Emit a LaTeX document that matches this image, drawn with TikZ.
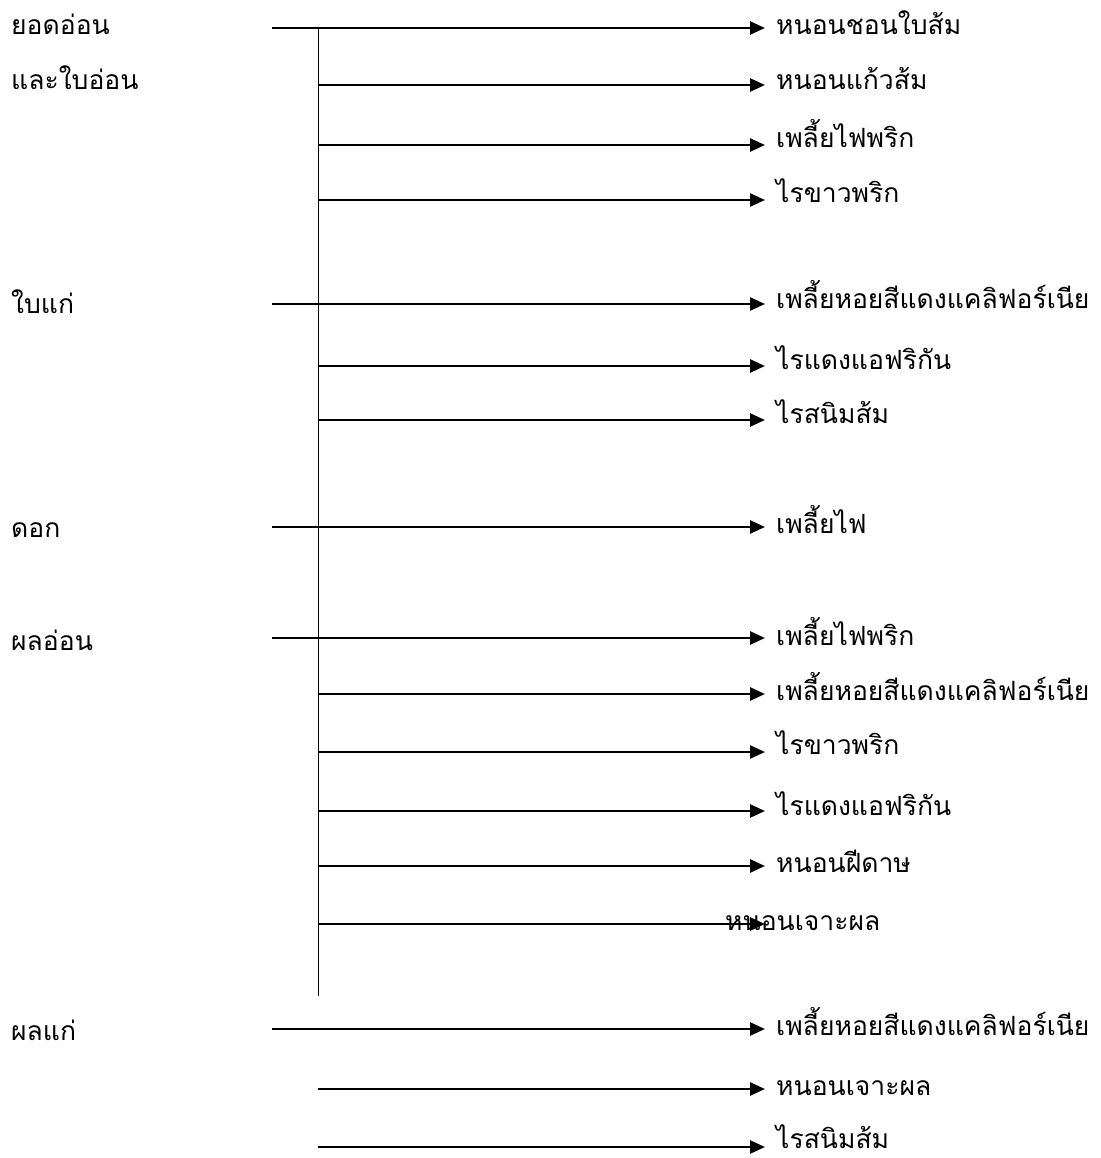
\documentclass[tikz,border=0pt]{standalone}
\usepackage{fontspec}
\newfontfamily\thaifont[Script=Thai]{Loma}
\usepackage{tikz}
\usetikzlibrary{arrows.meta, positioning, calc}
\tikzset{
  arr/.style={-{Triangle[length=15pt, width=13pt]}, line width=2.6pt, black},
  spine/.style={line width=1pt, black},
  part/.style={font=\thaifont\fontsize{26.5}{31}\selectfont, anchor=base west, inner sep=0pt},
  pest/.style={font=\thaifont\fontsize{26.5}{31}\selectfont, anchor=base west, inner sep=0pt},
}

\begin{document}
\begin{tikzpicture}[x=1pt, y=-1pt]
  \useasboundingbox (0,0) rectangle (1100,1158);
  %% plant parts
  \node[part] (yod)   at (11,35)   {ยอดอ่อน};
  \node[part] (baion) at (11,90)   {และใบอ่อน};
  \node[part] (baikae) at (11,313) {ใบแก่};
  \node[part] (dok)   at (11,537)  {ดอก};
  \node[part] (phonon) at (11,650) {ผลอ่อน};
  \node[part] (phonkae) at (11,1040) {ผลแก่};
  %% spine
  \coordinate (top) at (318,28);
  \coordinate (bot) at (318,996);
  \draw[spine] (top) -- (bot);
  \coordinate (tipx) at (765,0);
  %% pests
  \foreach \n/\y/\ty/\sx/\t in {
      1/28/35/272/หนอนชอนใบส้ม, 2/85/90/318/หนอนแก้วส้ม,
      3/145/148/318/เพลี้ยไฟพริก, 4/200/203/318/ไรขาวพริก,
      5/304/308/272/เพลี้ยหอยสีแดงแคลิฟอร์เนีย, 6/366/369/318/ไรแดงแอฟริกัน,
      7/420/423/318/ไรสนิมส้ม, 8/527/533/272/เพลี้ยไฟ,
      9/638/645/272/เพลี้ยไฟพริก, 10/694/700/318/เพลี้ยหอยสีแดงแคลิฟอร์เนีย,
      11/752/754/318/ไรขาวพริก, 12/811/815/318/ไรแดงแอฟริกัน,
      13/866/872/318/หนอนฝีดาษ,
      15/1029/1035/272/เพลี้ยหอยสีแดงแคลิฟอร์เนีย, 16/1089/1095/318/หนอนเจาะผล,
      17/1147/1148/318/ไรสนิมส้ม}
  {
    \coordinate (s\n) at (\sx,\y);
    \node[pest] (p\n) at (776,\ty) {\t};
    \draw[arr] (s\n) -- (s\n -| tipx);
  }
  %% label shifted onto its arrow
  \coordinate (s14) at (318,924);
  \node[pest] (p14) at (725,930) {หนอนเจาะผล};
  \draw[arr] (s14) -- (s14 -| tipx);
\end{tikzpicture}
\end{document}
